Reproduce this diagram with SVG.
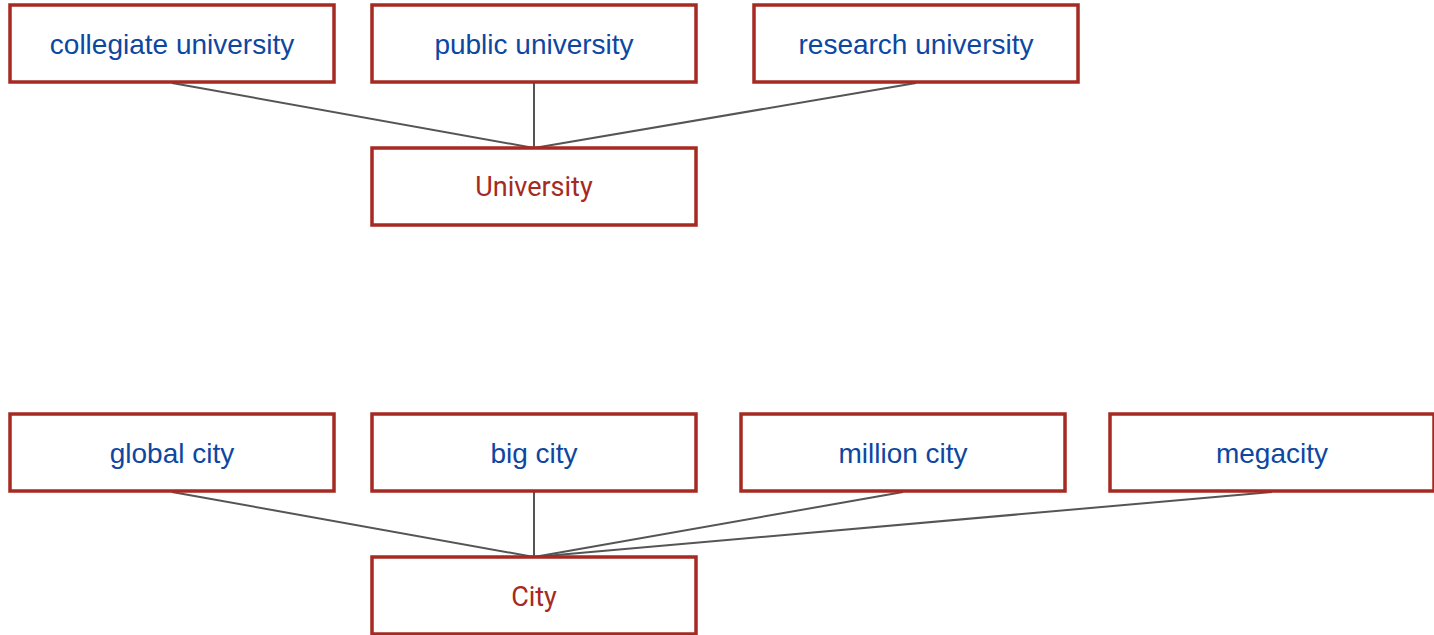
<svg xmlns="http://www.w3.org/2000/svg" width="1434" height="635" viewBox="0 0 1434 635">
<style>
.box{fill:#fff;stroke:#a52a22;stroke-width:3.5}
.c{font-family:"Liberation Sans",Arial,sans-serif;font-size:28px;fill:#0d47a1;text-anchor:middle;dominant-baseline:central}
.p{font-family:Roboto,sans-serif;font-size:27px;fill:#a52a22;text-anchor:middle;dominant-baseline:central}
.e{stroke:#555;stroke-width:2;fill:none}
</style>
<rect width="1434" height="635" fill="#fff"/>
<g id="connectors">
<line class="e" x1="172" y1="83" x2="534" y2="148"/>
<line class="e" x1="534" y1="83" x2="534" y2="148"/>
<line class="e" x1="916" y1="83" x2="534" y2="148"/>
<line class="e" x1="172" y1="492" x2="534" y2="557"/>
<line class="e" x1="534" y1="492" x2="534" y2="557"/>
<line class="e" x1="903" y1="492" x2="534" y2="557"/>
<line class="e" x1="1272" y1="492" x2="534" y2="557"/>
</g>
<g id="collegiate"><rect class="box" x="10" y="5" width="324" height="77"/><text class="c" x="172" y="44">collegiate university</text></g>
<g id="public"><rect class="box" x="372" y="5" width="324" height="77"/><text class="c" x="534" y="44">public university</text></g>
<g id="research"><rect class="box" x="754" y="5" width="324" height="77"/><text class="c" x="916" y="44">research university</text></g>
<g id="university"><rect class="box" x="372" y="148" width="324" height="77"/><text class="p" x="534" y="187">University</text></g>
<g id="global"><rect class="box" x="10" y="414" width="324" height="77"/><text class="c" x="172" y="453">global city</text></g>
<g id="big"><rect class="box" x="372" y="414" width="324" height="77"/><text class="c" x="534" y="453">big city</text></g>
<g id="million"><rect class="box" x="741" y="414" width="324" height="77"/><text class="c" x="903" y="453">million city</text></g>
<g id="megacity"><rect class="box" x="1110" y="414" width="324" height="77"/><text class="c" x="1272" y="453">megacity</text></g>
<g id="city"><rect class="box" x="372" y="557" width="324" height="77"/><text class="p" x="534" y="597">City</text></g>
</svg>
